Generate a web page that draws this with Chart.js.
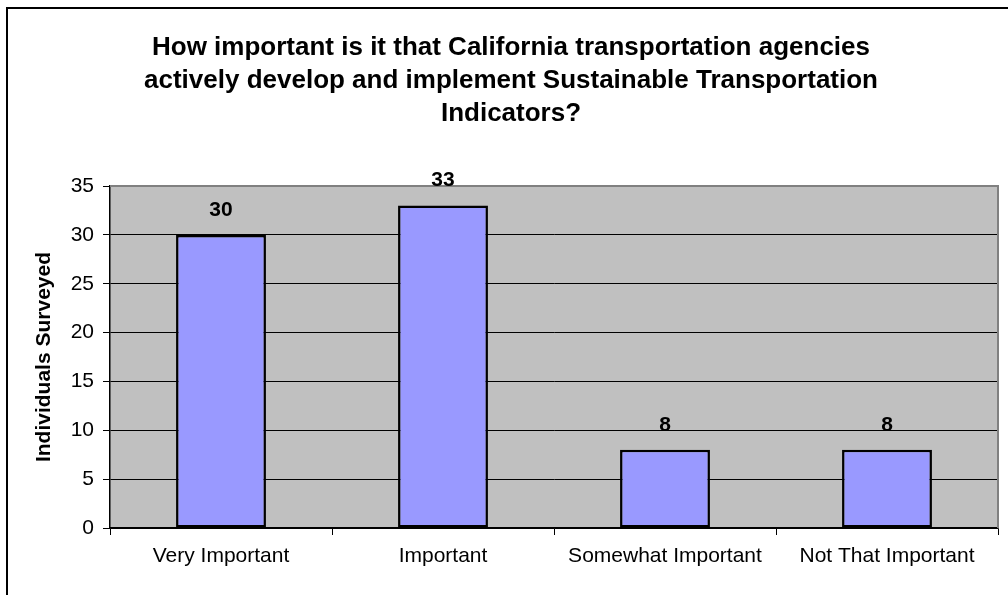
<!DOCTYPE html>
<html>
<head>
<meta charset="utf-8">
<script src="https://cdn.jsdelivr.net/npm/chart.js@4.4.0/dist/chart.umd.min.js"></script>
<style>
  html, body { margin: 0; padding: 0; background: #fff; }
  #wrap { width: 1008px; height: 595px; }
</style>
</head>
<body>
<div id="wrap"><canvas id="surveyChart" width="1008" height="595"></canvas></div>
<script>
// chart data
const categories = ['Very Important', 'Important', 'Somewhat Important', 'Not That Important'];
const individuals = [30, 33, 8, 8];
const yTicks = [0, 5, 10, 15, 20, 25, 30, 35];

const titleLines = [
    'How important is it that California transportation agencies',
    'actively develop and implement Sustainable Transportation',
    'Indicators?'
];

const FONT = 'Arial, "Liberation Sans", sans-serif';

// gray plot area, gray top/right frame and the outer chart border
const excelFrame = {
    id: 'excelFrame',
    beforeDraw(chart) {
        const ctx = chart.ctx;
        const a = chart.chartArea;
        ctx.save();
        ctx.fillStyle = '#fff';
        ctx.fillRect(0, 0, chart.width, chart.height);
        ctx.fillStyle = '#C0C0C0';
        ctx.fillRect(a.left, a.top, a.right - a.left, a.bottom - a.top);
        // outer border (only top and left show inside the picture)
        ctx.strokeStyle = '#000';
        ctx.lineWidth = 2;
        ctx.strokeRect(7, 8, chart.width + 20, chart.height + 20);
        ctx.restore();
    },
    afterDatasetsDraw(chart) {
        const ctx = chart.ctx;
        const a = chart.chartArea;
        ctx.save();
        ctx.strokeStyle = '#808080';
        ctx.lineWidth = 2;
        ctx.beginPath();
        ctx.moveTo(a.left, a.top);
        ctx.lineTo(a.right, a.top);
        ctx.lineTo(a.right, a.bottom);
        ctx.stroke();

        // value labels above the bars
        ctx.fillStyle = '#000';
        ctx.font = 'bold 21px ' + FONT;
        ctx.textAlign = 'center';
        ctx.textBaseline = 'middle';
        chart.getDatasetMeta(0).data.forEach((bar, i) => {
            ctx.fillText(String(individuals[i]), bar.x, bar.y - 25);
        });
        ctx.restore();
    }
};

const surveyChart = new Chart(document.getElementById('surveyChart'), {
    type: 'bar',
    data: {
        labels: categories,
        datasets: [{
            data: individuals,
            backgroundColor: '#9999FF',
            borderColor: '#000',
            borderWidth: 2.5,
            borderSkipped: false,
            barPercentage: 0.405,
            categoryPercentage: 1
        }]
    },
    options: {
        responsive: false,
        animation: false,
        layout: { padding: { left: 24, right: 10, top: 0, bottom: 0 } },
        plugins: {
            legend: { display: false },
            tooltip: { enabled: false },
            title: {
                display: true,
                text: titleLines,
                color: '#000',
                font: { family: FONT, size: 26, weight: 'bold', lineHeight: 1.27 },
                padding: { top: 31.5, bottom: 55.5 }
            }
        },
        scales: {
            x: {
                offset: true,
                grid: {
                    offset: true,
                    drawOnChartArea: false,
                    drawTicks: true,
                    tickLength: 7,
                    color: '#000',
                    lineWidth: 1
                },
                border: { color: '#000', width: 1.5 },
                ticks: {
                    color: '#000',
                    font: { family: FONT, size: 21 },
                    padding: 9,
                    maxRotation: 0
                },
                afterFit(scale) { scale.height = 67; }
            },
            y: {
                min: 0,
                max: 35,
                afterBuildTicks(scale) {
                    scale.ticks = yTicks.map(v => ({ value: v }));
                },
                grid: {
                    color: '#000',
                    lineWidth: 1,
                    drawTicks: true,
                    tickLength: 7
                },
                border: { color: '#000', width: 1.5 },
                ticks: {
                    color: '#000',
                    font: { family: FONT, size: 21 },
                    padding: 9
                },
                title: {
                    display: true,
                    text: 'Individuals Surveyed',
                    color: '#000',
                    font: { family: FONT, size: 21, weight: 'bold', lineHeight: 1.2 },
                    padding: { top: 8, bottom: 0 }
                },
                afterFit(scale) { scale.width = 86; }
            }
        }
    },
    plugins: [excelFrame]
});
</script>
</body>
</html>
